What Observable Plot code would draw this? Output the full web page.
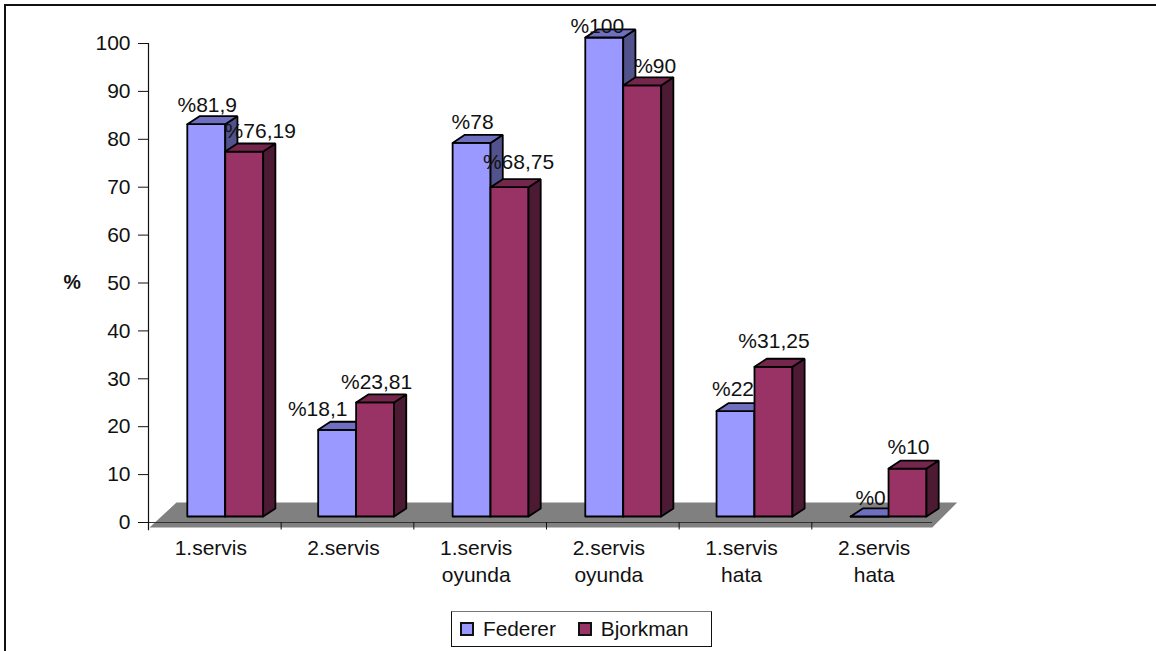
<!DOCTYPE html>
<html>
<head>
<meta charset="utf-8">
<script src="https://cdn.jsdelivr.net/npm/d3@7"></script>
<script src="https://cdn.jsdelivr.net/npm/@observablehq/plot@0.6"></script>
<style>
  html, body { margin: 0; padding: 0; background: #fff; }
  #chart { position: relative; width: 1156px; height: 651px; overflow: hidden; font-family: "Liberation Sans", Arial, sans-serif; color: #111; }
  #chart svg { display: block; }
  #frame { position: absolute; left: 4px; top: 4px; right: 0; bottom: 0; border-top: 2px solid #111; border-left: 2px solid #111; pointer-events: none; }
  #legend { position: absolute; left: 451px; top: 611px; width: 261px; height: 36px; box-sizing: border-box; border: 1px solid #111; border-top-color: #777; display: flex; align-items: center; font-size: 20.8px; }
  #legend i { display: inline-block; width: 10px; height: 10px; border: 2px solid #111; margin: 0 9px 0 8px; }
  #legend span { display: inline-flex; align-items: center; }
  #legend span + span { margin-left: 14px; }
</style>
</head>
<body>
<div id="chart"></div>
<script>
// Serve statistics, Federer vs Bjorkman
const categories = ["1.servis", "2.servis", "1.servis\noyunda", "2.servis\noyunda", "1.servis\nhata", "2.servis\nhata"];
const federer = [81.9, 18.1, 78, 100, 22, 0];
const bjorkman = [76.19, 23.81, 68.75, 90, 31.25, 10];
const federerLabels = ["%81,9", "%18,1", "%78", "%100", "%22", "%0"];
const bjorkmanLabels = ["%76,19", "%23,81", "%68,75", "%90", "%31,25", "%10"];
const yTicks = d3.range(0, 101, 10);

// Bar look for each series: front, top and side faces
const looks = {
  Federer: {front: "#9999ff", top: "#6f6fbf", side: "#52528c"},
  Bjorkman: {front: "#993366", top: "#74264d", side: "#4d1a33"}
};

// Geometry of the pseudo-3D bars, in x units (one category = 1) and y units (percent)
const slot = {federer: 0.2925, bjorkman: 0.5785, width: 0.286};
const groupShift = [0, -0.0135, 0, 0, -0.0105, 0];
const depth = {x: 0.092, y: 1.68};
const floorShape = [[0.0075, -1.05], [0.211, 4.17], [6.096, 4.17], [5.908, -1.05]];
const barLift = -6; // bars stand on the floor, slightly behind the zero line

// Label nudges in pixels, relative to the centre of each bar's front face
const federerNudge = [[1, 12], [-19.5, 13], [1, 13], [-7, 4.5], [-2.5, 15], [1, 11]];
const bjorkmanNudge = [[16, 13], [1.5, 12.5], [9, 18], [13, 12], [0.5, 18], [1, 14.5]];

const step = 132.66;
const unit = 4.79;

// Build closed polygons for the three visible faces of a bar
function barFaces(series, i, left, value) {
  const right = left + slot.width;
  const look = looks[series];
  const poly = (name, fill, pts) => [...pts, pts[0]].map(([x, y]) => ({x, y, fill, id: `${series}-${i}-${name}`}));
  const {x: dX, y: dY} = depth;
  return [
    ...poly("front", look.front, [[left, 0], [right, 0], [right, value], [left, value]]),
    ...poly("side", look.side, [[right, 0], [right + dX, dY], [right + dX, value + dY], [right, value]]),
    ...poly("top", look.top, [[left, value], [right, value], [right + dX, value + dY], [left + dX, value + dY]])
  ];
}

const faces = categories.flatMap((_, i) => [
  ...barFaces("Federer", i, i + groupShift[i] + slot.federer, federer[i]),
  ...barFaces("Bjorkman", i, i + groupShift[i] + slot.bjorkman, bjorkman[i])
]);

const valueLabels = categories.flatMap((_, i) => [
  {x: i + groupShift[i] + slot.federer + slot.width / 2 + federerNudge[i][0] / step, y: federer[i] + federerNudge[i][1] / unit, text: federerLabels[i]},
  {x: i + groupShift[i] + slot.bjorkman + slot.width / 2 + bjorkmanNudge[i][0] / step, y: bjorkman[i] + bjorkmanNudge[i][1] / unit, text: bjorkmanLabels[i]}
]);

const floorPoints = [...floorShape, floorShape[0]].map(([x, y]) => ({x, y}));

const font = "Liberation Sans, Arial, sans-serif";
const fontSize = 21;

const plot = Plot.plot({
  width: 1156,
  height: 606,
  marginLeft: 148,
  marginRight: 1156 - 148 - 6 * step,
  marginTop: 43,
  marginBottom: 84,
  style: {fontFamily: font, background: "transparent", color: "#111"},
  x: {domain: [0, 6], axis: null},
  y: {domain: [0, 100], axis: null},
  color: {type: "identity"},
  marks: [
    // Floor of the 3D scene
    Plot.line(floorPoints, {x: "x", y: "y", fill: "#808080", stroke: "none"}),
    // Zero line, value axis and its ticks
    Plot.ruleY([0], {x1: 0, x2: 5.91, stroke: "#333", strokeWidth: 1}),
    Plot.ruleX([0], {y1: 100, y2: -1.7, stroke: "#111", strokeWidth: 1.2}),
    Plot.axisY({
      ticks: yTicks, tickSize: 10, tickPadding: 8, fontSize, stroke: "#111", fill: "#111",
      label: null, tickFormat: d3.format("d")
    }),
    Plot.axisX({
      ticks: d3.range(0, 6), tickSize: 7.5, tickPadding: 8, stroke: "#111", tickFormat: () => "", label: null
    }),
    // Bars
    Plot.line(faces, {
      x: "x", y: "y", z: "id", fill: "fill", stroke: "#000", strokeWidth: 1.8,
      strokeLinejoin: "miter", dy: barLift, curve: "linear"
    }),
    // Value labels
    Plot.text(valueLabels, {
      x: "x", y: "y", text: "text", dy: barLift - 0.5, fontSize, fill: "#111",
      textAnchor: "middle", lineAnchor: "bottom"
    }),
    // Category labels under the floor
    Plot.text(categories, {
      x: (_, i) => i + 0.47, y: () => -2.85, text: d => d, fontSize, fill: "#111",
      textAnchor: "middle", lineAnchor: "top", lineHeight: 1.29
    }),
    // Axis title
    Plot.text(["%"], {
      x: () => -0.575, y: () => 50, text: d => d, fontSize: 19.5, fontWeight: "bold", fill: "#111",
      textAnchor: "middle", lineAnchor: "middle"
    })
  ]
});

const chart = document.getElementById("chart");
chart.append(plot);

const frame = document.createElement("div");
frame.id = "frame";
chart.append(frame);

// Legend under the plot
const legend = document.createElement("div");
legend.id = "legend";
for (const name of Object.keys(looks)) {
  const entry = document.createElement("span");
  const swatch = document.createElement("i");
  swatch.style.background = looks[name].front;
  entry.append(swatch, document.createTextNode(name));
  legend.append(entry);
}
chart.append(legend);
</script>
</body>
</html>
